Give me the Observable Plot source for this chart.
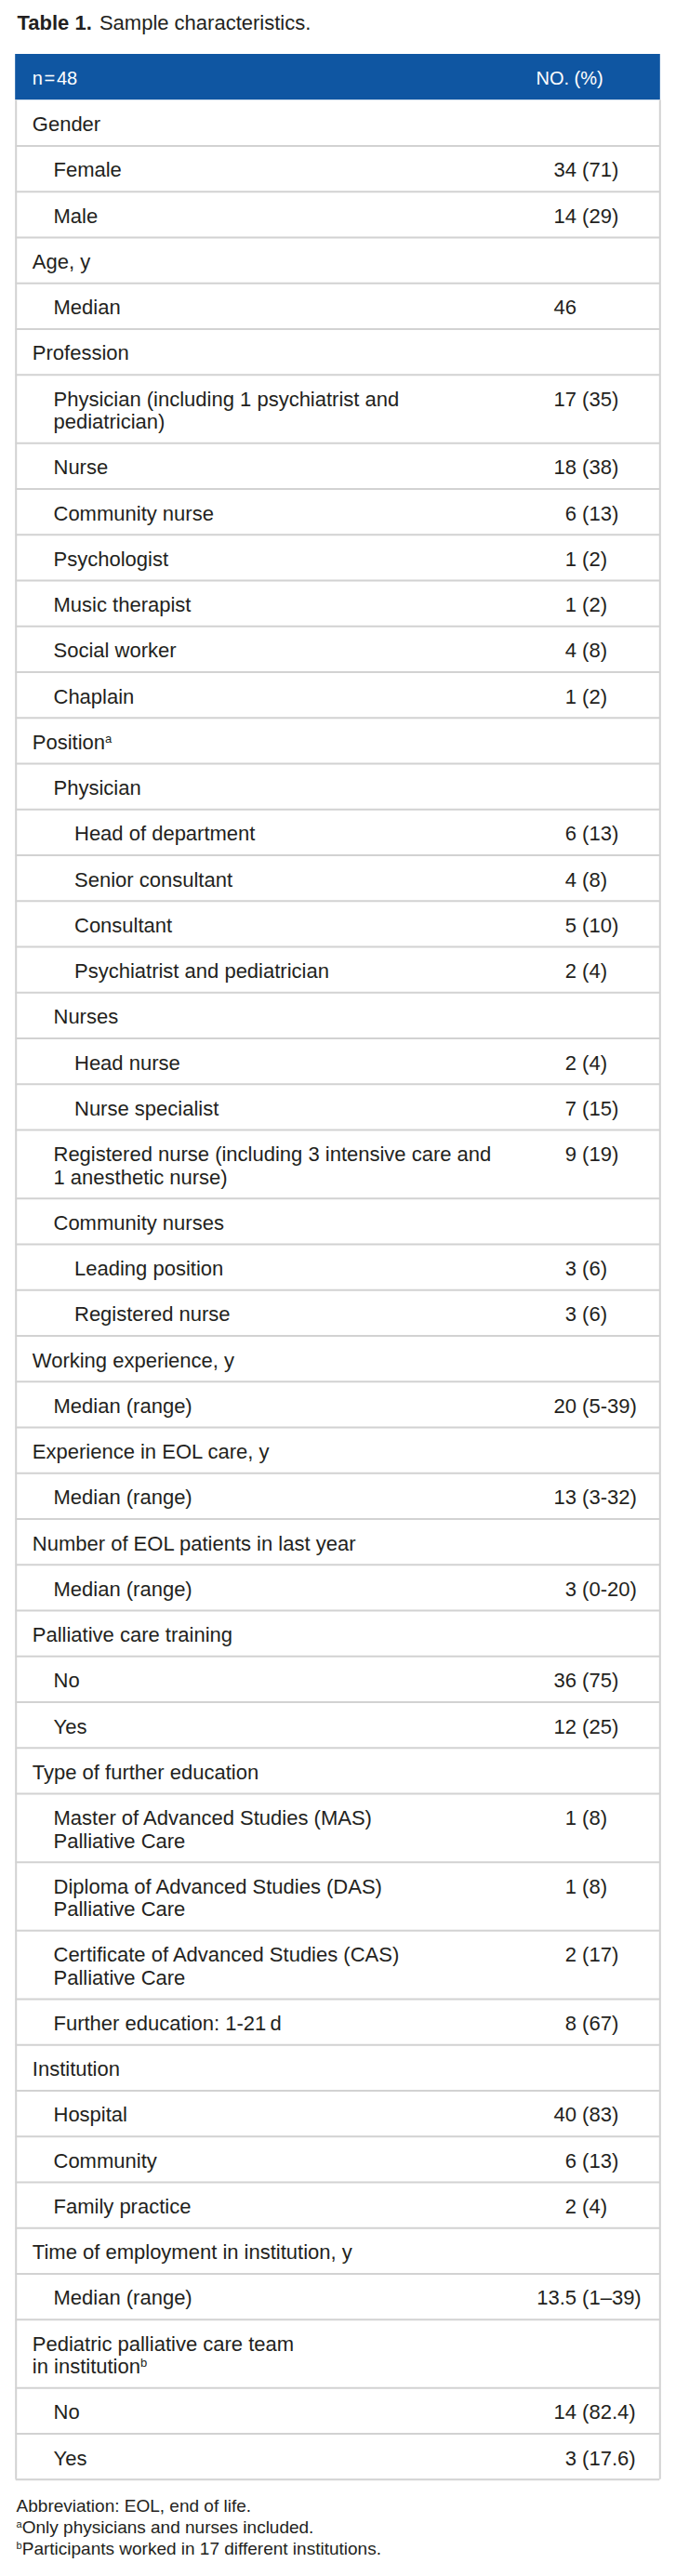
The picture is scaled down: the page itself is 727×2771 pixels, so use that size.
<!DOCTYPE html>
<html>
<head>
<meta charset="utf-8">
<script src="https://cdn.jsdelivr.net/npm/d3@7"></script>
<script src="https://cdn.jsdelivr.net/npm/@observablehq/plot@0.6"></script>
<style>
  html, body { margin: 0; padding: 0; background: #ffffff; }
  body { width: 727px; font-family: "Liberation Sans", Arial, Helvetica, sans-serif; color: #231f20; }
  #title { height: 50px; box-sizing: border-box; padding: 14px 0 0 18.5px; font-size: 22px; line-height: 22px; white-space: nowrap; }
  #title b { font-weight: bold; margin-right: 2px; }
  #chart svg { display: block; }
  #notes { padding: 0.5px 0 0 17.6px; font-size: 19px; line-height: 23.3px; }
  #notes sup { font-size: 11px; vertical-align: 6px; line-height: 0; }
</style>
</head>
<body>
<div id="title"><b>Table 1.</b> Sample characteristics.</div>
<div id="chart"></div>
<div id="notes">
  <div>Abbreviation: EOL, end of life.</div>
  <div><sup>a</sup>Only physicians and nurses included.</div>
  <div><sup>b</sup>Participants worked in 17 different institutions.</div>
</div>
<script>
// ---- data ----
const headerLeft = "n\u200A=\u200A48";
const headerRight = "NO. (%)";

const labels = [
  "Gender", "Female", "Male",
  "Age, y", "Median",
  "Profession",
  "Physician (including 1 psychiatrist and\npediatrician)",
  "Nurse", "Community nurse", "Psychologist", "Music therapist", "Social worker", "Chaplain",
  "Position\u1D43",
  "Physician", "Head of department", "Senior consultant", "Consultant", "Psychiatrist and pediatrician",
  "Nurses", "Head nurse", "Nurse specialist",
  "Registered nurse (including 3 intensive care and\n1 anesthetic nurse)",
  "Community nurses", "Leading position", "Registered nurse",
  "Working experience, y", "Median (range)",
  "Experience in EOL care, y", "Median (range)",
  "Number of EOL patients in last year", "Median (range)",
  "Palliative care training", "No", "Yes",
  "Type of further education",
  "Master of Advanced Studies (MAS)\nPalliative Care",
  "Diploma of Advanced Studies (DAS)\nPalliative Care",
  "Certificate of Advanced Studies (CAS)\nPalliative Care",
  "Further education: 1-21\u2009d",
  "Institution", "Hospital", "Community", "Family practice",
  "Time of employment in institution, y", "Median (range)",
  "Pediatric palliative care team\nin institution\u1D47", "No", "Yes"
];

const levels = [
  0, 1, 1,
  0, 1,
  0,
  1,
  1, 1, 1, 1, 1, 1,
  0,
  1, 2, 2, 2, 2,
  1, 2, 2,
  1,
  1, 2, 2,
  0, 1,
  0, 1,
  0, 1,
  0, 1, 1,
  0,
  1, 1, 1, 1,
  0, 1, 1, 1,
  0, 1,
  0, 1, 1
];

const counts = [
  "", "34", "14",
  "", "46",
  "",
  "17",
  "18", "6", "1", "1", "4", "1",
  "",
  "", "6", "4", "5", "2",
  "", "2", "7",
  "9",
  "", "3", "3",
  "", "20",
  "", "13",
  "", "3",
  "", "36", "12",
  "",
  "1", "1", "2", "8",
  "", "40", "6", "2",
  "", "13.5",
  "", "14", "3"
];

const percents = [
  "", "(71)", "(29)",
  "", "",
  "",
  "(35)",
  "(38)", "(13)", "(2)", "(2)", "(8)", "(2)",
  "",
  "", "(13)", "(8)", "(10)", "(4)",
  "", "(4)", "(15)",
  "(19)",
  "", "(6)", "(6)",
  "", "(5-39)",
  "", "(3-32)",
  "", "(0-20)",
  "", "(75)", "(25)",
  "",
  "(8)", "(8)", "(17)", "(67)",
  "", "(83)", "(13)", "(4)",
  "", "(1\u201339)",
  "", "(82.4)", "(17.6)"
];

// ---- layout ----
const W = 727, H = 2633;
const tableTop = 8, headerH = 49.2;
const rowH = 49.25, extraLine = 24.4;
const left = 16.7, right = 709.3;
const indentX = [34.3, 57, 79.5];
const numEndX = 619.5, parenX = 625.6;
const fontSize = 22, headerFontSize = 20, lineHeight = 1.12;
const font = '"Liberation Sans", Arial, Helvetica, sans-serif';
const ink = "#231f20", blue = "#0f56a2", grid = "#d2d2d2";

let y0 = tableTop + headerH;
const rows = labels.map((label, i) => {
  const nLines = label.split("\n").length;
  const h = rowH + (nLines - 1) * extraLine;
  const r = {label, level: levels[i], count: counts[i], pct: percents[i], top: y0, bottom: y0 + h};
  y0 += h;
  return r;
});
const tableBottom = y0;
const boundaries = rows.map(r => r.bottom);
// text baseline sits ~33.5px below row top; Plot "top" anchor puts baseline at 0.71*lineHeight em
const textY = top => top + 33.5 - 0.71 * lineHeight * fontSize;
const headerY = top => top + 32 - 0.71 * lineHeight * headerFontSize;

const header = [{top: tableTop, bottom: tableTop + headerH, a: headerLeft, b: headerRight}];

const textOpts = {fontSize, fontFamily: font, lineAnchor: "top", lineHeight, fill: ink};
const headOpts = {fontSize: headerFontSize, fontFamily: font, lineAnchor: "top", lineHeight, fill: "#ffffff", textAnchor: "start"};

const plot = Plot.plot({
  width: W,
  height: H,
  margin: 0,
  x: {type: "linear", domain: [0, W], range: [0, W], axis: null},
  y: {type: "linear", domain: [0, H], range: [0, H], axis: null},
  style: {background: "#ffffff", fontFamily: font},
  marks: [
    Plot.rect(header, {x1: left - 0.5, x2: right + 0.5, y1: "top", y2: "bottom", fill: blue}),
    Plot.ruleX([left, right], {y1: tableTop + headerH, y2: tableBottom, stroke: grid, strokeWidth: 2}),
    Plot.ruleY(boundaries, {x1: left, x2: right, stroke: grid, strokeWidth: 2}),
    Plot.text(header, {...headOpts, x: indentX[0], y: d => headerY(d.top), text: "a"}),
    Plot.text(header, {...headOpts, x: 576, y: d => headerY(d.top), text: "b"}),
    Plot.text(rows, {...textOpts, x: d => indentX[d.level], y: d => textY(d.top), text: "label", textAnchor: "start"}),
    Plot.text(rows.filter(d => d.count), {...textOpts, x: numEndX, y: d => textY(d.top), text: "count", textAnchor: "end"}),
    Plot.text(rows.filter(d => d.pct), {...textOpts, x: parenX, y: d => textY(d.top), text: "pct", textAnchor: "start"})
  ]
});

// render footnote markers (ᵃ, ᵇ) as true superscripts
const walker = document.createTreeWalker(plot, NodeFilter.SHOW_TEXT);
const hits = [];
while (walker.nextNode()) {
  const n = walker.currentNode;
  if (/[\u1D43\u1D47]/.test(n.nodeValue)) hits.push(n);
}
for (const n of hits) {
  const m = n.nodeValue.match(/^(.*?)([\u1D43\u1D47])$/);
  if (!m) continue;
  n.nodeValue = m[1];
  const sup = document.createElementNS("http://www.w3.org/2000/svg", "tspan");
  sup.setAttribute("font-size", "13");
  sup.setAttribute("dy", "-7");
  sup.textContent = m[2] === "\u1D43" ? "a" : "b";
  n.parentNode.insertBefore(sup, n.nextSibling);
}

document.getElementById("chart").appendChild(plot);
</script>
</body>
</html>
